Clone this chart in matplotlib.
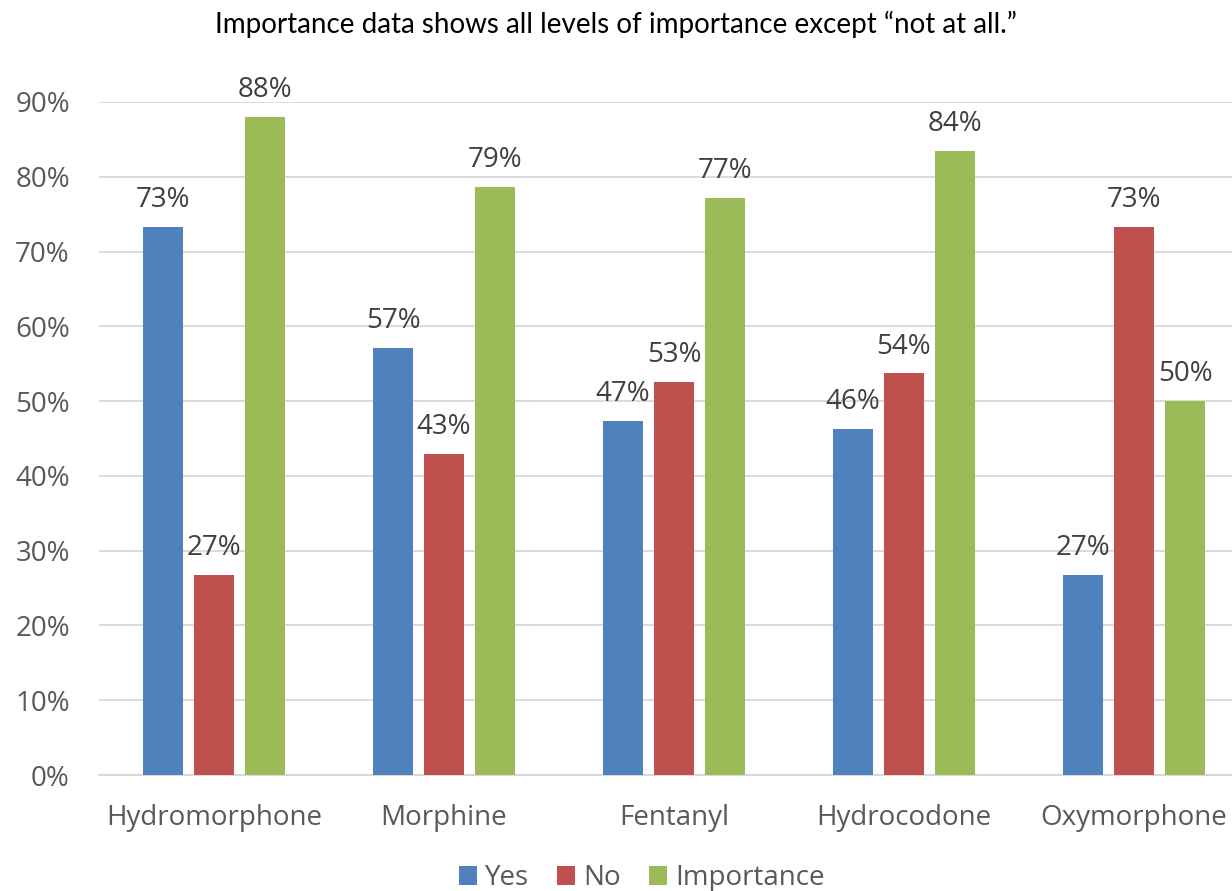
import matplotlib.pyplot as plt
import numpy as np

categories = ['Hydromorphone', 'Morphine', 'Fentanyl', 'Hydrocodone', 'Oxymorphone']
yes = [73.3, 57.1, 47.4, 46.3, 26.7]
no = [26.7, 42.9, 52.6, 53.7, 73.3]
importance = [88.0, 78.6, 77.2, 83.5, 50.0]
series = [('Yes', yes, '#4F81BD'), ('No', no, '#C0504D'), ('Importance', importance, '#9BBB59')]

plt.rcParams['font.family'] = ['Open Sans', 'DejaVu Sans']

fig = plt.figure(figsize=(12.32, 8.91), dpi=100)
ax = fig.add_axes([99 / 1232, 1 - 775 / 891, 1 - 99 / 1232, (775 - 102) / 891])

x = np.arange(len(categories))
step = 51 / 230      # bar spacing in category units
width = 40 / 230

handles = []
for i, (name, vals, col) in enumerate(series):
    pos = x + (i - 1) * step
    b = ax.bar(pos, vals, width, color=col, label=name, zorder=3)
    handles.append(b)
    for px, v in zip(pos, vals):
        ax.text(px, v + 3.6, '%d%%' % round(v), ha='center', va='center',
                fontsize=20, color='#404040', clip_on=False)

ax.set_xlim(-0.5, (1232 - 214) / 230)
ax.set_ylim(0, 90)
ax.set_yticks(range(0, 100, 10))
ax.set_yticklabels(['%d%%' % v for v in range(0, 100, 10)])
ax.set_xticks(x)
ax.set_xticklabels(categories)
ax.tick_params(axis='both', length=0, labelsize=20, colors='#595959')
ax.tick_params(axis='x', pad=21)
ax.tick_params(axis='y', pad=21)
ax.grid(axis='y', color='#D9D9D9', linewidth=1.3, zorder=0)
for s in ['top', 'right', 'left']:
    ax.spines[s].set_visible(False)
ax.spines['bottom'].set_color('#D9D9D9')
ax.spines['bottom'].set_linewidth(1.5)

fig.text(0.5, 1 - 24 / 891, 'Importance data shows all levels of importance except \u201cnot at all.\u201d',
         ha='center', va='center', fontsize=20, color='black', family=['Lato', 'DejaVu Sans'])

leg = fig.legend(handles=handles, loc='center', bbox_to_anchor=(642 / 1232, 1 - 878 / 891), ncol=3,
                 frameon=False, fontsize=20, handlelength=0.65, handleheight=0.65,
                 handletextpad=0.3, columnspacing=1.0)
for t in leg.get_texts():
    t.set_color('#595959')

fig.savefig('out.png', dpi=100)
